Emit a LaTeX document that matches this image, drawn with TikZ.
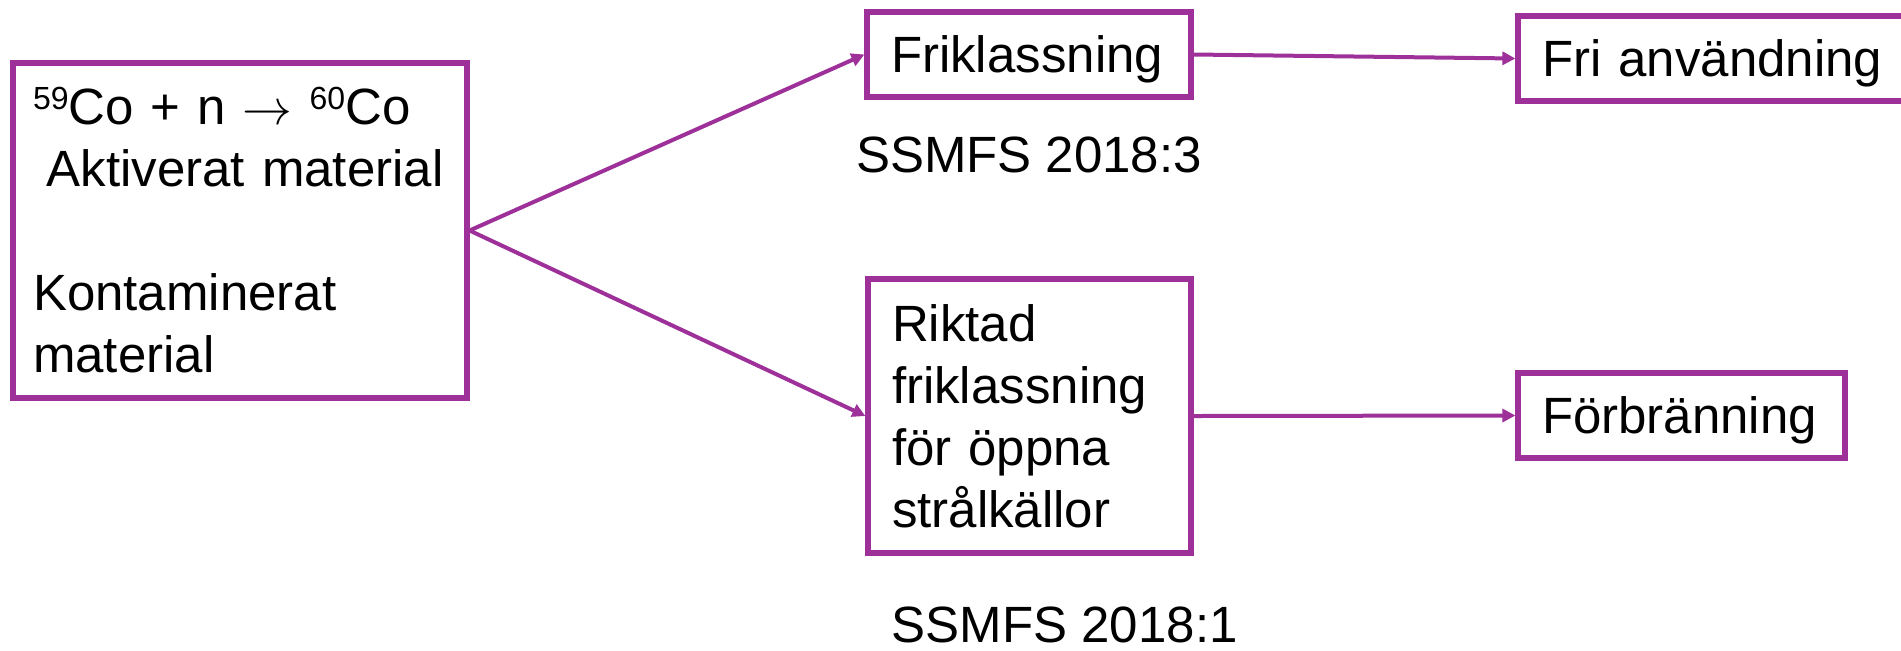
\documentclass[tikz,border=0pt]{standalone}
\usepackage{fontspec}
\setmainfont{Liberation Sans}
\usepackage{tikz}
\usetikzlibrary{arrows.meta, positioning}

\definecolor{vio}{RGB}{157,48,153}
\newcommand{\iso}[1]{\raisebox{7.5pt}{\fontsize{16pt}{16pt}\selectfont #1}}

\begin{document}
\begin{tikzpicture}[
    x=0.5pt, y=-0.5pt,
    font=\fontsize{25.5pt}{31pt}\selectfont,
    box/.style={draw=vio, line width=2.6pt, inner xsep=12pt, inner ysep=0pt, align=left},
    onebox/.style={box, minimum height=42.5pt, text height=17.6pt, text depth=0pt},
    ref/.style={inner sep=0pt, text height=17.9pt, text depth=0pt},
    flow/.style={draw=vio, line width=2pt, -{Triangle[length=6.5pt, width=6.5pt]}}
]
\useasboundingbox (0,0) rectangle (1901,650);

% boxes
\node[box, inner xsep=10pt, text width=207pt, minimum height=167.5pt] (Source) at (240,230.5)
    {\iso{59}Co + n $\rightarrow$ \iso{60}Co\\
     \hspace*{0.27em}Aktiverat material\\[31pt]
     Kontaminerat\\material};
\node[onebox, text width=138pt] (Clear) at (1029,54.5) {Friklassning};
\node[onebox, text width=180pt] (Free) at (1722,58.5) {Fri användning};
\node[box, text width=137.5pt, minimum height=137pt] (Directed) at (1029.5,416)
    {Riktad\\friklassning\\för öppna\\strålkällor};
\node[onebox, text width=139.5pt] (Burn) at (1681.5,415.5) {Förbränning};

% regulations
\node[ref, below=18.5pt of Clear] (Reg3) {SSMFS 2018:3};
\node[ref, below=25.5pt of Directed.south west, anchor=north west, xshift=13pt] (Reg1) {SSMFS 2018:1};

% arrows
\draw[flow] (Source.east) -- (Clear.west);
\draw[flow] (Source.east) -- (Directed.west);
\draw[flow] (Clear.east) -- (Free.west);
\draw[flow] (Directed.east) -- (Burn.west);

\end{tikzpicture}
\end{document}
